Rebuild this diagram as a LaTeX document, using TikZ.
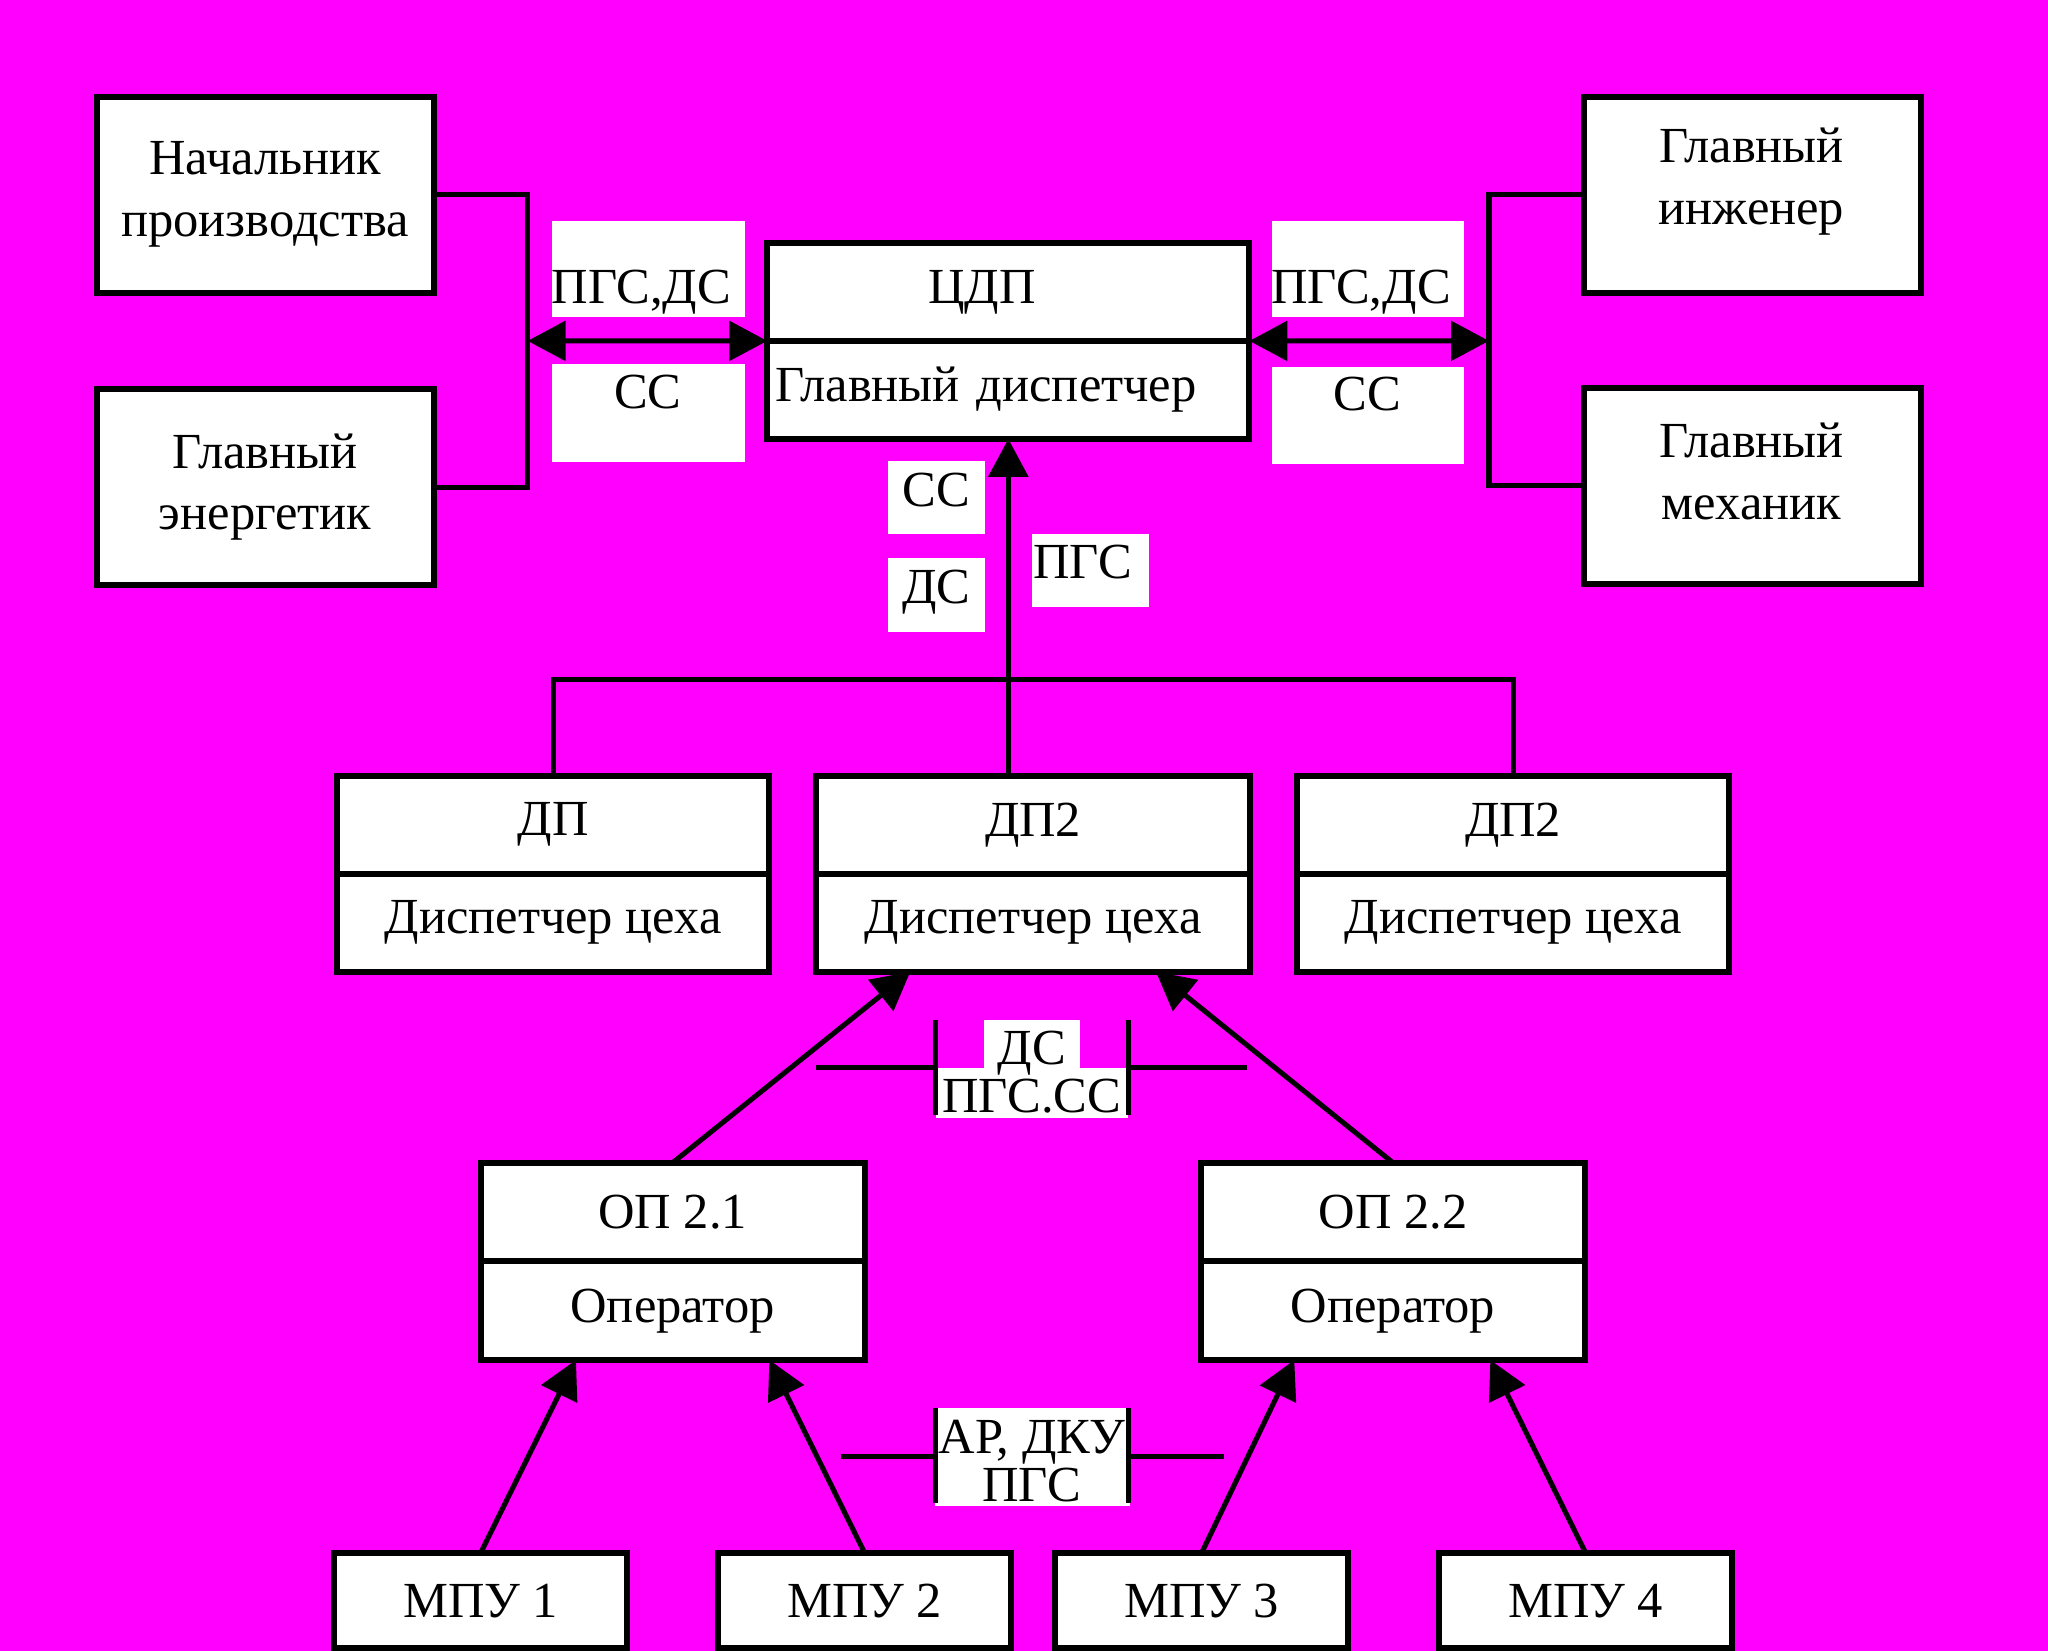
\documentclass[tikz,border=0pt]{standalone}
\usepackage{fontspec}
\setmainfont{Liberation Serif}
\usetikzlibrary{arrows.meta,positioning}
\definecolor{fon}{RGB}{255,0,255}
\tikzset{
  box/.style={draw, line width=1.3pt, fill=white, inner sep=0pt, outer sep=0pt, align=center, font=\fontsize{11}{13.4}\selectfont},
  link/.style={line width=1.1pt},
  arrowto/.style={link, -{Triangle[length=0.29cm,width=0.3cm]}},
  arrowboth/.style={link, {Triangle[length=0.29cm,width=0.3cm]}-{Triangle[length=0.29cm,width=0.3cm]}},
  lbl/.style={inner sep=0pt, align=center, font=\fontsize{11}{10.5}\selectfont}
}

\begin{document}
\begin{tikzpicture}[x=0.01cm,y=-0.01cm]
\useasboundingbox (0,0) rectangle (1568,1264);
\fill[fon] (0,0) rectangle (1568,1264);
% white fields under the labels
\fill[white] (422.5,169) rectangle (570.5,243);
\fill[white] (422.5,279) rectangle (570.5,354);
\fill[white] (974,169) rectangle (1121,243);
\fill[white] (974,281) rectangle (1121,355);
\fill[white] (680,353) rectangle (754,409);
\fill[white] (680,427) rectangle (754,484);
\fill[white] (790,409) rectangle (880,465);
\fill[white] (753,781) rectangle (827,818);
\fill[white] (717,818) rectangle (864,856);
\fill[white] (716,1078) rectangle (865,1153);

% upper level
\node[box, minimum width=2.58cm, minimum height=1.5cm] (nach) at (203,149) {Начальник\\производства};
\node[box, minimum width=2.58cm, minimum height=1.5cm] (energ) at (203,373) {Главный\\энергетик};
\node[box, minimum width=2.58cm, minimum height=1.5cm] (ing) at (1342,149) {};
\node[box, draw=none, fill=none] (ingT) at (1341,139) {Главный\\инженер};
\node[box, minimum width=2.58cm, minimum height=1.5cm] (mech) at (1342,372) {};
\node[box, draw=none, fill=none] (mechT) at (1341,361) {Главный\\механик};
\node[box, minimum width=3.69cm, minimum height=0.75cm] (cdpTop) at (772,223.5) {};
\node[box, draw=none, fill=none] (cdpT) at (752,224) {ЦДП};
\node[box, minimum width=3.69cm, minimum height=0.75cm, text width=3.57cm, align=left, inner xsep=0.06cm] (cdpRole) at (772,298.5) {Главный диспетчер};

% shops
\node[box, minimum width=3.31cm, minimum height=0.75cm] (dp1Top) at (423.5,631.5) {ДП};
\node[box, minimum width=3.31cm, minimum height=0.75cm] (dp1Role) at (423.5,706.5) {Диспетчер цеха};
\node[box, minimum width=3.32cm, minimum height=0.75cm] (dp2Top) at (791,631.5) {ДП2};
\node[box, minimum width=3.32cm, minimum height=0.75cm] (dp2Role) at (791,706.5) {Диспетчер цеха};
\node[box, minimum width=3.31cm, minimum height=0.75cm] (dp3Top) at (1158.5,631.5) {ДП2};
\node[box, minimum width=3.31cm, minimum height=0.75cm] (dp3Role) at (1158.5,706.5) {Диспетчер цеха};

% operators
\node[box, minimum width=2.94cm, minimum height=0.755cm] (op1Top) at (515,928) {ОП 2.1};
\node[box, minimum width=2.94cm, minimum height=0.755cm] (op1Role) at (515,1003.5) {Оператор};
\node[box, minimum width=2.94cm, minimum height=0.755cm] (op2Top) at (1066.5,928) {ОП 2.2};
\node[box, minimum width=2.94cm, minimum height=0.755cm] (op2Role) at (1066.5,1003.5) {Оператор};

% panels
\node[box, minimum width=2.24cm, minimum height=0.73cm] (mpu1) at (368,1225.5) {МПУ 1};
\node[box, minimum width=2.24cm, minimum height=0.73cm] (mpu2) at (662,1225.5) {МПУ 2};
\node[box, minimum width=2.24cm, minimum height=0.73cm] (mpu3) at (920,1225.5) {МПУ 3};
\node[box, minimum width=2.24cm, minimum height=0.73cm] (mpu4) at (1214,1225.5) {МПУ 4};

% labels
\node[lbl] (pgsL) at (491,224) {ПГС,ДС};
\node[lbl] (ssL) at (496,300) {СС};
\node[lbl] (pgsR) at (1042,224) {ПГС,ДС};
\node[lbl] (ssR) at (1047,302) {СС};
\node[lbl] (ssV) at (717,375) {СС};
\node[lbl] (dsV) at (717,453) {ДС};
\node[lbl] (pgsV) at (829,430) {ПГС};
\node[lbl] (dsMid) at (790,820.7) {ДС\\ПГС.СС};
\node[lbl] (arMid) at (790,1118.7) {АР, ДКУ\\ПГС};

% connections
\coordinate (lbus) at (404,261);
\coordinate (rbus) at (1140,261);
\coordinate (bus) at (772,520);
\draw[link] (nach.east) -| (lbus) |- (energ.east);
\draw[arrowboth] (lbus) -- (cdpTop.south west);
\draw[link] (ing.west) -| (rbus) |- (mech.west);
\draw[arrowboth] (cdpTop.south east) -- (rbus);
\draw[link] (dp1Top.north) |- (bus) -| (dp3Top.north);
\draw[arrowto] (bus |- dp2Top.north) -- (cdpRole.south);
\draw[arrowto] (op1Top.north) -- ([xshift=-0.94cm]dp2Role.south);
\draw[arrowto] (op2Top.north) -- ([xshift=0.94cm]dp2Role.south);
\draw[arrowto] (mpu1.north) -- ([xshift=-0.74cm]op1Role.south);
\draw[arrowto] (mpu2.north) -- ([xshift=0.74cm]op1Role.south);
\draw[arrowto] (mpu3.north) -- ([xshift=-0.755cm]op2Role.south);
\draw[arrowto] (mpu4.north) -- ([xshift=0.745cm]op2Role.south);

% marks across the links
\coordinate (dsA) at (625,817);
\coordinate (dsB) at (955,817);
\draw[link] (dsA) -- (716,817) (864,817) -- (dsB);
\draw[link] (716,781) -- (716,854) (864,781) -- (864,854);
\coordinate (arA) at (644,1115);
\coordinate (arB) at (937,1115);
\draw[link] (arA) -- (716,1115) (864,1115) -- (arB);
\draw[link] (716,1078) -- (716,1151) (864,1078) -- (864,1151);
\end{tikzpicture}
\end{document}
